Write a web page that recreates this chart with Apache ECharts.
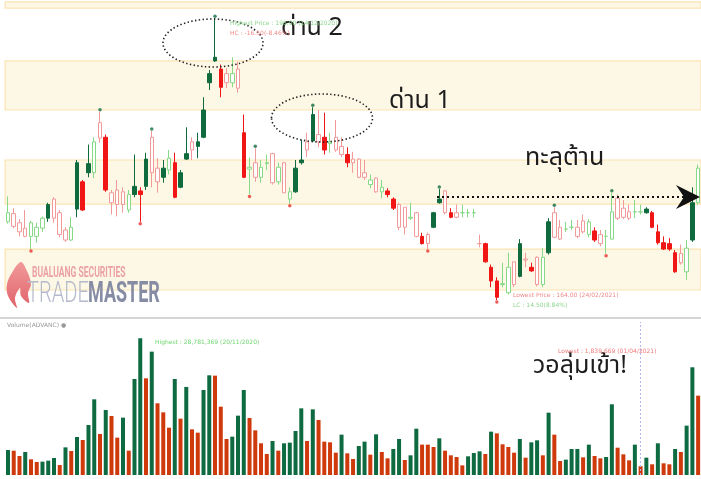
<!DOCTYPE html>
<html><head><meta charset="utf-8">
<script src="https://cdn.jsdelivr.net/npm/echarts@6/dist/echarts.min.js"></script>
<style>html,body{margin:0;padding:0;background:#fff;overflow:hidden}#c{width:701px;height:479px}</style>
</head><body><div id="c"></div><script>
// ---- price data (per session) ----
const openP = [172.6,172.1,171.5,171.0,171.0,171.0,171.9,174.5,173.0,171.2,
170.6,170.6,179.1,177.0,179.0,178.0,181.8,181.9,174.7,174.5,
174.5,173.9,176.5,176.0,179.5,178.0,177.0,178.5,178.3,179.1,
178.0,180.1,180.5,181.4,184.9,188.9,190.7,189.4,187.9,187.9,
187.3,182.4,178.4,177.5,177.5,179.0,176.9,177.0,175.8,175.1,
178.5,179.4,180.5,184.4,181.4,181.9,181.2,180.5,180.0,180.0,
179.1,177.5,177.5,176.7,175.9,175.9,176.0,175.1,172.0,172.0,
173.0,171.0,171.0,170.2,173.6,175.1,173.6,173.6,173.1,173.6,
173.6,173.6,170.2,170.2,167.6,166.1,165.7,164.8,165.7,170.2,
168.4,167.6,165.7,165.7,172.6,170.9,170.7,171.8,172.0,171.0,
171.5,171.2,171.6,170.2,171.0,170.7,173.0,173.1,173.0,173.7,
173.7,174.0,173.6,171.5,170.3,170.2,169.2,168.1,167.1,174.7,
174.7];
const closeP = [173.6,173.5,172.5,171.9,172.5,172.0,173.0,173.0,175.1,173.6,
171.7,172.0,174.0,173.9,178.0,181.4,183.5,176.1,175.8,176.1,
175.9,175.6,175.6,175.6,176.5,181.9,178.5,177.5,179.6,175.3,
176.4,179.5,181.4,180.9,181.9,187.9,190.3,187.4,188.9,188.9,
189.4,177.5,178.6,179.1,178.6,179.1,180.1,178.6,179.1,175.9,
175.9,179.1,181.4,181.5,182.2,180.5,181.4,181.9,180.9,179.1,
179.5,179.5,178.0,177.2,177.4,176.4,175.6,174.1,174.5,174.2,
173.1,173.6,170.2,171.2,172.0,174.7,176.0,173.1,173.6,173.6,
173.6,173.6,170.2,168.2,166.1,164.3,165.8,167.6,168.2,166.6,
168.5,167.2,168.7,168.7,169.2,173.6,172.0,171.8,172.0,172.0,
172.7,172.6,170.6,171.2,171.0,173.7,175.2,174.1,173.7,173.7,
173.7,173.6,172.0,170.3,169.6,169.6,167.1,169.1,169.7,170.6,
178.5];
const lowP = [172.4,171.9,171.0,170.9,169.6,170.3,171.5,172.6,172.5,170.9,
170.4,170.5,173.1,173.8,177.5,177.4,181.3,175.9,173.4,173.2,
173.6,173.6,175.3,172.6,176.1,176.4,175.8,176.9,177.8,175.2,
176.3,179.4,179.4,179.6,181.8,187.1,190.2,186.3,187.3,187.4,
186.8,177.4,175.6,177.0,176.9,178.3,176.7,176.7,175.8,174.6,
175.8,178.9,179.7,181.4,180.8,180.0,180.2,180.3,179.7,178.6,
178.0,177.4,177.2,176.3,175.8,175.2,175.3,173.9,171.7,171.2,
172.8,170.9,170.1,169.6,171.9,174.6,173.4,173.0,173.0,173.1,
173.1,173.1,169.8,168.1,165.4,164.0,165.4,164.6,165.4,166.5,
167.6,167.1,165.5,165.4,169.0,170.8,170.6,171.5,171.7,170.8,
171.3,170.9,170.4,169.9,169.1,170.6,172.8,172.9,172.8,173.0,
173.4,173.5,171.9,170.1,169.5,169.4,167.0,167.9,166.2,170.4,
174.5];
const highP = [175.4,174.1,172.9,173.9,172.7,172.5,173.2,174.7,175.3,173.9,
172.0,173.1,179.4,177.2,181.1,181.9,184.7,182.2,176.1,177.2,
176.4,176.1,180.0,176.4,180.2,182.6,179.6,179.4,180.5,180.2,
178.3,183.0,181.9,182.4,186.3,189.3,195.0,189.9,189.5,190.7,
190.2,184.4,179.7,180.7,179.4,180.0,180.2,179.1,179.2,176.4,
179.4,181.6,182.4,185.2,184.9,184.6,182.4,183.8,181.9,180.8,
180.3,179.6,179.4,177.8,177.5,177.2,176.3,175.3,174.7,174.2,
174.7,173.7,171.4,171.4,173.7,176.2,176.1,174.1,174.5,174.5,
174.0,174.0,171.2,170.3,167.9,166.5,168.1,169.2,168.2,170.7,
169.2,168.1,168.8,169.7,173.0,174.2,172.8,172.6,172.8,172.8,
173.4,172.9,172.0,171.7,171.7,175.8,175.6,175.0,174.5,175.0,
174.5,174.2,173.8,172.3,171.0,170.8,169.5,170.1,170.6,176.4,
178.9];
// candle colour vs previous close: g = up, r = down
const candleDir = ("grrrggggrr"+"rggrggrrrr"+"rggrgrrggr"+"ggrggggrrg"+"rrgrggrgrg"+
"ggrgrrgrrr"+"rrrgrgrrrr"+"grrrggrrrg"+"ggrrrrggrg"+"rrrggrrggr"+"rgrrggrrrg"+"ggrrrrrrgg"+"g").split("");
// ---- volume (millions of shares) ----
const volume = [5.26,5.12,4.00,4.84,3.30,2.74,2.81,3.02,3.58,2.11,
5.82,5.05,8.00,7.37,10.53,15.93,8.63,13.68,12.42,7.86,
12.07,5.12,20.21,28.78,20.35,25.96,15.09,13.19,9.96,20.21,
11.86,18.53,9.61,8.91,17.89,20.98,20.91,14.38,7.58,8.07,
12.49,17.89,12.00,9.40,6.67,4.42,7.16,5.12,6.67,6.81,
9.26,14.03,7.16,13.82,11.58,7.02,6.88,4.70,8.49,4.56,
3.37,6.10,7.02,4.28,8.56,4.84,3.51,5.47,7.58,3.16,
4.14,9.75,6.39,6.39,5.89,7.72,5.12,4.14,3.79,2.03,
3.93,4.63,4.98,4.42,9.12,8.77,6.46,5.89,4.70,7.58,
3.65,6.88,7.30,4.14,13.12,8.49,2.95,3.23,5.47,5.47,
3.72,6.39,4.00,3.51,3.79,14.88,5.75,4.35,3.09,6.39,
1.84,3.65,2.25,6.67,2.46,2.25,5.47,4.84,10.39,22.67,
16.70];
const volDir = ("grrgrrgggr"+"grgrggrgrr"+"grggrgrrrg"+"rgrrggrrrg"+"ggrrrrgrgg"+
"ggrgrrrrgr"+"rggrgrrggr"+"ggrrrgrrrr"+"gggrgrrrrg"+"rggrgrrggg"+"rgrrggrrrg"+"rgrgrrgrgg"+"r").split("");
// support / resistance zones (price ranges)
const zones = [[196.1,196.8],[184.9,190.3],[174.55,179.4],[165.1,169.6]];
// swing markers (session indexes)
const highMarks = [16,25,36,43,53,75,95,105];
const lowMarks = [4,23,42,49,73,85,104];
const categories = openP.map((_, i) => String(i + 1));

const GD = '#0f6b3d', GL = '#86d986', RF = '#f01616', RL = '#f29a9a';
const VG = '#0e6a40', VR = '#cf3a0c';

const candleData = openP.map((o, i) => {
  const g = candleDir[i] === 'g';
  const filled = closeP[i] < o;
  const fill = filled ? (g ? GD : RF) : '#ffffff';
  const border = filled ? (g ? GD : RF) : (g ? GL : RL);
  return { value: [o, closeP[i], lowP[i], highP[i]], itemStyle: {
    color: fill, color0: fill, borderColor: border, borderColor0: border,
    borderColorDoji: border, borderWidth: 1 } };
});
const volData = volume.map((v, i) => ({ value: v, itemStyle: { color: volDir[i] === 'g' ? VG : VR } }));
let minIdx = 0; volume.forEach((v, i) => { if (v < volume[minIdx]) minIdx = i; });

const maxHigh = Math.max(...highP), minLow = Math.min(...lowP), last = closeP[closeP.length - 1];
const hc = last - maxHigh, lc = last - minLow;

const N = openP.length, step = 5.767;
const thai = '"Noto Sans Thai","Noto Looped Thai","Loma","Garuda","Noto Sans",sans-serif';
const small = '6px "DejaVu Sans",sans-serif';

const chart = echarts.init(document.getElementById('c'), null, { renderer: 'canvas' });
chart.setOption({
  animation: false,
  backgroundColor: '#ffffff',
  grid: [
    { left: 5.1, width: N * step, top: 0, height: 318 },
    { left: 5.1, width: N * step, top: 322, height: 153 }
  ],
  xAxis: [
    { type: 'category', data: categories, gridIndex: 0, show: false, boundaryGap: true },
    { type: 'category', data: categories, gridIndex: 1, show: false, boundaryGap: true }
  ],
  yAxis: [
    { type: 'value', gridIndex: 0, min: 162.02, max: 197, show: false, splitLine: { show: false } },
    { type: 'value', gridIndex: 1, min: 0, max: 32.2, show: false, splitLine: { show: false } }
  ],
  series: [
    { type: 'line', xAxisIndex: 0, yAxisIndex: 0, data: [], z: 1, silent: true,
      markArea: { silent: true, itemStyle: { color: '#fdf7e6', borderColor: '#fbe3b2', borderWidth: 1.2 },
        data: zones.map(z => [{ yAxis: z[0] }, { yAxis: z[1] }]) } },
    { type: 'candlestick', xAxisIndex: 0, yAxisIndex: 0, data: candleData, barWidth: 4, z: 3 },
    { type: 'scatter', xAxisIndex: 0, yAxisIndex: 0, symbolSize: 3.5, symbolOffset: [0, -2], z: 4,
      itemStyle: { color: GD }, data: highMarks.map(i => [i, highP[i]]) },
    { type: 'scatter', xAxisIndex: 0, yAxisIndex: 0, symbolSize: 3.5, symbolOffset: [0, 2], z: 4,
      itemStyle: { color: '#e8322f' }, data: lowMarks.map(i => [i, lowP[i]]) },
    { type: 'bar', xAxisIndex: 1, yAxisIndex: 1, data: volData, barWidth: 4, z: 3,
      markLine: { silent: true, symbol: 'none', label: { show: false },
        lineStyle: { color: '#b4b4ee', type: [2, 2], width: 1 },
        data: [{ xAxis: categories[minIdx] }] } }
  ],
  graphic: [
    { type: 'rect', z: 50, shape: { x: 0, y: 317, width: 701, height: 2 }, style: { fill: '#d5d5d5' } },
    { type: 'text', z: 60, x: 7, y: 322, style: { text: 'Volume(ADVANC) ●', font: small, fill: '#9a9a9a' } },
    { type: 'ellipse', z: 60, shape: { cx: 213, cy: 43, rx: 50, ry: 24 },
      style: { fill: 'none', stroke: '#222', lineWidth: 1.6, lineDash: [1.4, 2.4] } },
    { type: 'ellipse', z: 60, shape: { cx: 322, cy: 118, rx: 50.5, ry: 24 },
      style: { fill: 'none', stroke: '#222', lineWidth: 1.6, lineDash: [1.4, 2.4] } },
    { type: 'line', z: 60, shape: { x1: 437, y1: 197, x2: 684, y2: 197 },
      style: { stroke: '#111', lineWidth: 2.2, lineDash: [2, 3] } },
    { type: 'polygon', z: 61, shape: { points: [[700, 197], [676, 185], [684, 197], [676, 209]] },
      style: { fill: '#111' } },
    { type: 'text', z: 60, x: 281, y: 17, style: { text: 'ด่าน 2', font: '25px ' + thai, fill: '#1d1d1d' } },
    { type: 'text', z: 60, x: 389, y: 90, style: { text: 'ด่าน 1', font: '25px ' + thai, fill: '#1d1d1d' } },
    { type: 'text', z: 60, x: 525, y: 147, style: { text: 'ทะลุต้าน', font: '25px ' + thai, fill: '#1d1d1d' } },
    { type: 'text', z: 60, x: 533, y: 355, style: { text: 'วอลุ่มเข้า!', font: '25px ' + thai, fill: '#1d1d1d' } },
    { type: 'text', z: 60, x: 230, y: 20, style: { text: 'Highest Price : ' + maxHigh.toFixed(2) + ' (14/12/2020)', font: small, fill: '#8fd68f' } },
    { type: 'text', z: 60, x: 230, y: 30, style: { text: 'HC : ' + hc.toFixed(2) + '(' + (hc / maxHigh * 100).toFixed(2) + '%)', font: small, fill: '#f08a8a' } },
    { type: 'text', z: 60, x: 513, y: 292, style: { text: 'Lowest Price : ' + minLow.toFixed(2) + ' (24/02/2021)', font: small, fill: '#f08a8a' } },
    { type: 'text', z: 60, x: 513, y: 302, style: { text: 'LC : ' + lc.toFixed(2) + '(' + (lc / minLow * 100).toFixed(2) + '%)', font: small, fill: '#8fd68f' } },
    { type: 'text', z: 60, x: 155, y: 339, style: { text: 'Highest : 28,781,369 (20/11/2020)', font: small, fill: '#6fd66f' } },
    { type: 'text', z: 60, x: 558, y: 348, style: { text: 'Lowest : 1,839,669 (01/04/2021)', font: small, fill: '#f07a7a' } },
    { type: 'polygon', z: 55, shape: { smooth: 0.35, points: [[21,262],[13,271],[7,284],[8,296],[17,308],[15,298],[20,288],[21,296],[29,303],[28,293],[31,284],[27,271]] },
      style: { fill: { type: 'linear', x: 0, y: 0, x2: 0, y2: 1, colorStops: [{ offset: 0, color: '#f19a9a' }, { offset: 1, color: '#e0636b' }] } } },
    { type: 'text', z: 55, x: 32, y: 266, scaleX: 0.57, style: { text: 'BUALUANG SECURITIES', font: 'bold 15px Roboto,sans-serif', fill: '#eba1a8' } },
    { type: 'text', z: 55, x: 27, y: 279, scaleX: 0.67, style: { text: 'TRADE', font: '300 30px Roboto,sans-serif', fill: '#b5bacb' } },
    { type: 'text', z: 55, x: 88, y: 279, scaleX: 0.6, style: { text: 'MASTER', font: 'bold 30px Roboto,sans-serif', fill: '#858ca4' } }
  ]
});
</script></body></html>
